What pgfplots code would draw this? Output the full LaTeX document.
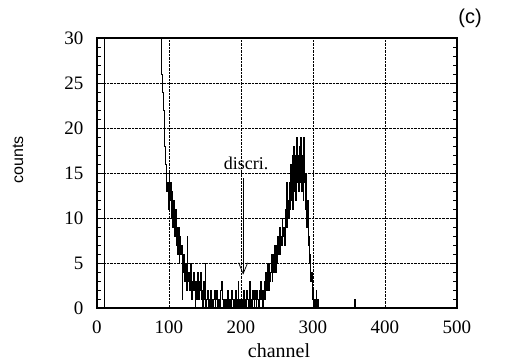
\documentclass[border=0pt]{standalone}
\usepackage{pgfplots}
\pgfplotsset{compat=1.18}
\usetikzlibrary{arrows.meta}
\usepackage{fontspec}
\setmainfont{Liberation Serif}
\newfontfamily\arialf{Liberation Sans}
\begin{document}
\begin{tikzpicture}
\begin{axis}[
  at={(0,0)}, anchor=south west,
  scale only axis, width=360bp, height=270bp,
  xmin=0, xmax=500, ymin=0, ymax=30,
  xtick={0,100,200,300,400,500},
  ytick={0,5,10,15,20,25,30},
  minor y tick num=4,
  grid=major,
  grid style={densely dotted, black, line width=0.6pt},
  axis line style={line width=1.1pt},
  x tick style={draw=none},
  y tick style={black, line width=0.8pt},
  major tick length=6bp, minor tick length=4bp,
  tick align=inside,
  /pgf/number format/assume math mode=true,
  ticklabel style={font=\fontsize{19bp}{21bp}\selectfont},
  xticklabel style={yshift=-9bp},
  yticklabel style={xshift=-10bp},
  clip=true,
]
\addplot[const plot, black, line width=0.7pt] coordinates {
(9,0)(10,300)(40,200)(70,90)(86,45)(87,36)(88,31)(89,28)(90,26)(91,24)(92,22)(93,20)(94,18)(95,16)
(96,15)(97,13)(98,14)(99,11)(100,15)(101,12)(102,14)(103,10)(104,13)(105,9)
(106,12)(107,10)(108,8)(109,11)(110,7)(111,9)(112,6)(113,9)(114,5)(115,8)
(116,6)(117,7)(118,1)(119,6)(120,4)(121,6)(122,3)(123,5)(124,2)(125,8)
(126,3)(127,4)(128,2)(129,3)(130,5)(131,1)(132,3)(133,2)(134,4)(135,2)
(136,0)(137,3)(138,1)(139,2)(140,4)(141,1)(142,3)(143,2)(144,4)(145,1)
(146,2)(147,0)(148,3)(149,1)(150,5)(151,0)(152,1)(153,2)(154,0)(155,1)
(156,0)(157,1)(158,2)(159,0)(160,1)(161,0)(162,1)(163,2)(164,0)(165,1)
(166,2)(167,0)(168,1)(169,0)(170,1)(171,0)(172,2)(173,3)(174,1)(175,0)
(176,0)(177,1)(178,0)(179,1)(180,0)(181,2)(182,0)(183,1)(184,0)(185,1)
(186,0)(187,2)(188,1)(189,0)(190,1)(191,0)(192,2)(193,0)(194,1)(195,0)
(196,3)(197,1)(198,0)(199,1)(200,0)(201,1)(202,0)(203,2)(204,1)(205,0)
(206,1)(207,0)(208,2)(209,1)(210,0)(211,1)(212,3)(213,0)(214,1)(215,0)
(216,2)(217,1)(218,0)(219,2)(220,1)(221,0)(222,2)(223,1)(224,0)(225,2)
(226,1)(227,3)(228,1)(229,2)(230,0)(231,2)(232,3)(233,1)(234,4)(235,2)
(236,3)(237,5)(238,2)(239,5)(240,3)(241,4)(242,6)(243,3)(244,6)(245,4)
(246,5)(247,7)(248,4)(249,7)(250,5)(251,8)(252,6)(253,9)(254,6)(255,8)
(256,7)(257,10)(258,8)(259,9)(260,7)(261,11)(262,9)(263,14)(264,9)(265,12)
(266,10)(267,14)(268,11)(269,16)(270,12)(271,17)(272,11)(273,18)(274,13)(275,17)
(276,12)(277,19)(278,14)(279,17)(280,13)(281,18)(282,14)(283,19)(284,13)(285,17)
(286,12)(287,19)(288,14)(289,11)(290,15)(291,9)(292,12)(293,7)(294,8)(295,5)
(296,6)(297,3)(298,4)(299,1)(300,2)(301,0)(302,1)(303,0)(304,2)(305,0)
(306,1)(307,0)(357,0)(358,1)(359,0)(500,0)
};
\node[font=\fontsize{18bp}{20bp}\selectfont] at (axis cs:207,16.1) {discri.};
\draw[black, line width=0.7pt, -{Straight Barb[length=11bp,width=9bp,line width=0.7pt]}] (axis cs:203,14.4) -- (axis cs:203,3.7);
\end{axis}
\node[font=\fontsize{20bp}{22bp}\selectfont, anchor=center] at (182bp,-43bp) {channel};
\node[font=\arialf\fontsize{16bp}{18bp}\selectfont, anchor=center, rotate=90] at (-79bp,148bp) {counts};
\node[font=\arialf\fontsize{20bp}{22bp}\selectfont, anchor=center] at (373bp,290bp) {(c)};
\path[use as bounding box] (-97bp,-56bp) rectangle (408bp,308bp);
\end{tikzpicture}
\end{document}
